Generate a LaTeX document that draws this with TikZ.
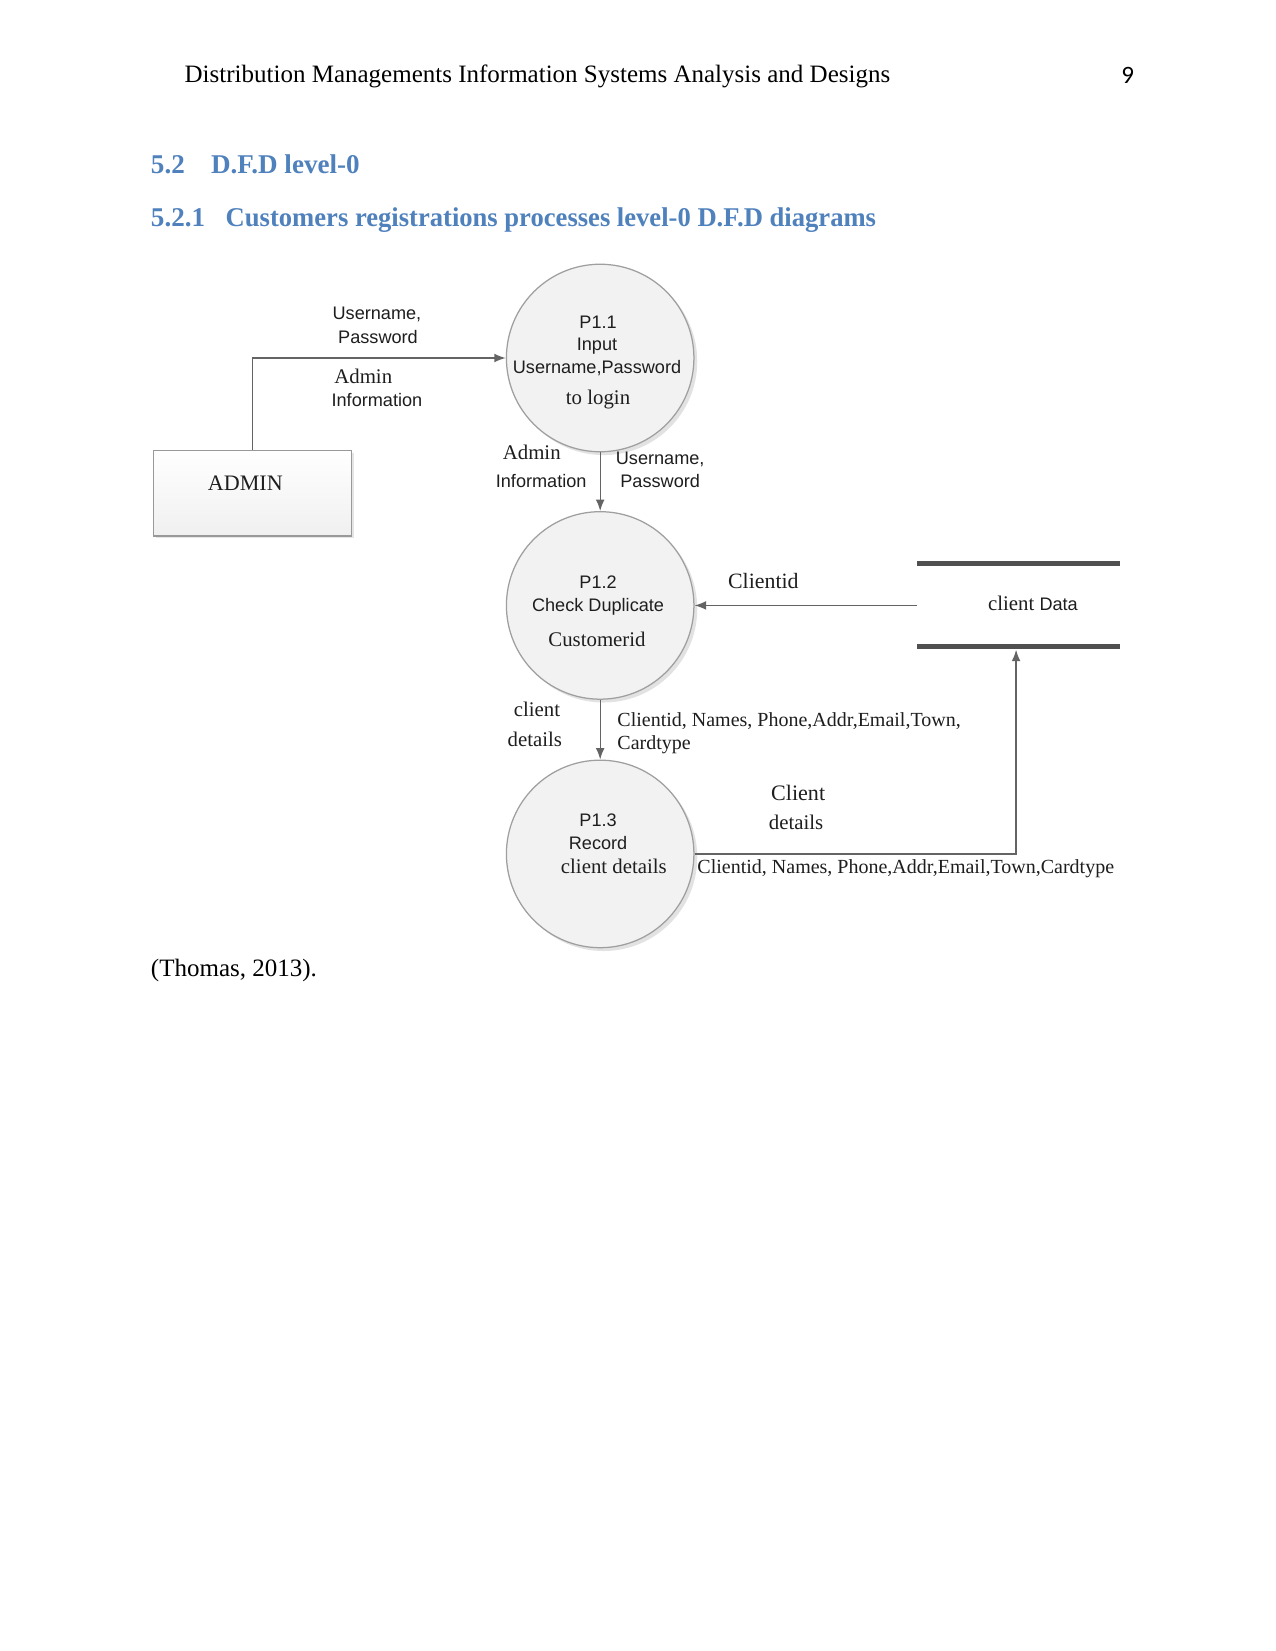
\documentclass[tikz,border=0pt]{standalone}
\usepackage{fontspec}
\setmainfont{Liberation Serif}
\newfontfamily\arial{Liberation Sans}
\newfontfamily\calibri{Carlito}
\usetikzlibrary{arrows.meta,shadows}
\definecolor{headblue}{RGB}{79,129,189}
\definecolor{ln}{RGB}{100,100,100}
\definecolor{txt}{RGB}{30,30,30}
\definecolor{storeln}{RGB}{80,80,80}
\definecolor{procfill}{RGB}{242,242,242}
\begin{document}
\begin{tikzpicture}[x=0.50537pt,y=-0.50537pt,
  lbl/.style={inner sep=0pt, text=txt},
  sans/.style={lbl, font=\arial\fontsize{8.7}{10}\selectfont},
  serif/.style={lbl, font=\fontsize{10}{12}\selectfont},
  rowtxt/.style={lbl, font=\fontsize{9.6}{11}\selectfont},
  headtxt/.style={inner sep=0pt, text=headblue, font=\bfseries\fontsize{13}{15}\selectfont},
  proc/.style={circle, draw=gray!75, line width=0.6pt, fill=procfill, minimum size=90pt, inner sep=0pt,
    drop shadow={shadow xshift=1.6pt, shadow yshift=-1.6pt, fill=black!22}},
  entity/.style={rectangle, draw=gray!80, line width=0.6pt, top color=white, bottom color=gray!12,
    minimum width=95pt, minimum height=41pt, inner sep=0pt,
    drop shadow={shadow xshift=1pt, shadow yshift=-1pt, fill=black!20}},
  flow/.style={draw=ln, line width=0.65pt, -{Latex[length=5.5pt,width=4.2pt]}},
  storebar/.style={draw=storeln, line width=2.6pt},
]
\useasboundingbox (0,0) rectangle (1211,1568);
\fill[white] (0,0) rectangle (1211,1568);

% page header
\node[inner sep=0pt, anchor=west, font=\fontsize{12}{14}\selectfont] (hdr) at (175,73) {Distribution Managements Information Systems Analysis and Designs};
\node[inner sep=0pt, font=\calibri\fontsize{12}{14}\selectfont] (pgno) at (1071,72) {9};

% headings
\node[headtxt, anchor=base west] (h1num) at (143,165) {5.2};
\node[headtxt, anchor=base west] (h1) at (200,165) {D.F.D level-0};
\node[headtxt, anchor=base west] (h2num) at (143,215) {5.2.1};
\node[headtxt, anchor=base west, xscale=0.982] (h2) at (214,215) {Customers registrations processes level-0 D.F.D diagrams};

% processes
\node[proc] (p11) at (570,340) {};
\node[proc] (p12) at (570,575) {};
\node[proc] (p13) at (570,811) {};

\node[sans] (p11a) at (568,306) {P1.1};
\node[sans] (p11b) at (567,329) {Input};
\node[sans] (p11c) at (567,350) {Username,Password};
\node[serif] (p11d) at (568,379) {to login};

\node[sans] (p12a) at (568,553) {P1.2};
\node[sans] (p12b) at (568,576) {Check Duplicate};
\node[serif] (p12c) at (567,607) {Customerid};

\node[sans] (p13a) at (568,779) {P1.3};
\node[sans] (p13b) at (568,801) {Record};
\node[serif] (p13c) at (583,823) {client details};

% external entity
\node[entity] (admin) at (240,468.5) {};
\node[lbl, font=\fontsize{10.6}{12}\selectfont] (adminlbl) at (233,459) {ADMIN};

% data store
\draw[storebar] (871,535) -- (1064,535);
\draw[storebar] (871,614) -- (1064,614);
\node[lbl] (store) at (981,573) {{\fontsize{10}{12}\selectfont client} {\arial\fontsize{8.7}{10}\selectfont Data}};
\coordinate (storeL) at (871,575);
\coordinate (storeB) at (965,617);

% flows
\draw[flow] (admin.north) |- (p11.west);
\draw[flow] (p11.south) -- (p12.north);
\draw[flow] (storeL) -- (p12.east);
\draw[flow] (p12.south) -- (p13.north);
\draw[flow] (p13.east) -| (storeB);

% flow labels
\node[sans] (l1a) at (358,299) {Username,};
\node[sans] (l1b) at (359,320) {Password};
\node[serif] (l1c) at (345,357) {Admin};
\node[sans] (l1d) at (358,380) {Information};

\node[serif] (l2a) at (505,430) {Admin};
\node[sans] (l2b) at (514,457) {Information};
\node[sans] (l2c) at (627,436) {Username,};
\node[sans] (l2d) at (627,457) {Password};

\node[lbl, font=\fontsize{10.5}{12}\selectfont] (l3) at (725,552) {Clientid};

\node[serif] (l4a) at (510,674) {client};
\node[serif] (l4b) at (508,702) {details};
\node[rowtxt, anchor=west] (l4c) at (586,685) {Clientid, Names, Phone,Addr,Email,Town,};
\node[rowtxt, anchor=west] (l4d) at (586,707) {Cardtype};

\node[lbl, font=\fontsize{10.6}{12}\selectfont] (l5a) at (758,753) {Client};
\node[serif] (l5b) at (756,781) {details};
\node[rowtxt, anchor=west] (l5c) at (662,825) {Clientid, Names, Phone,Addr,Email,Town,Cardtype};

% citation
\node[inner sep=0pt, anchor=west, font=\fontsize{12}{14}\selectfont] (cite) at (143,922) {(Thomas, 2013).};
\end{tikzpicture}
\end{document}
